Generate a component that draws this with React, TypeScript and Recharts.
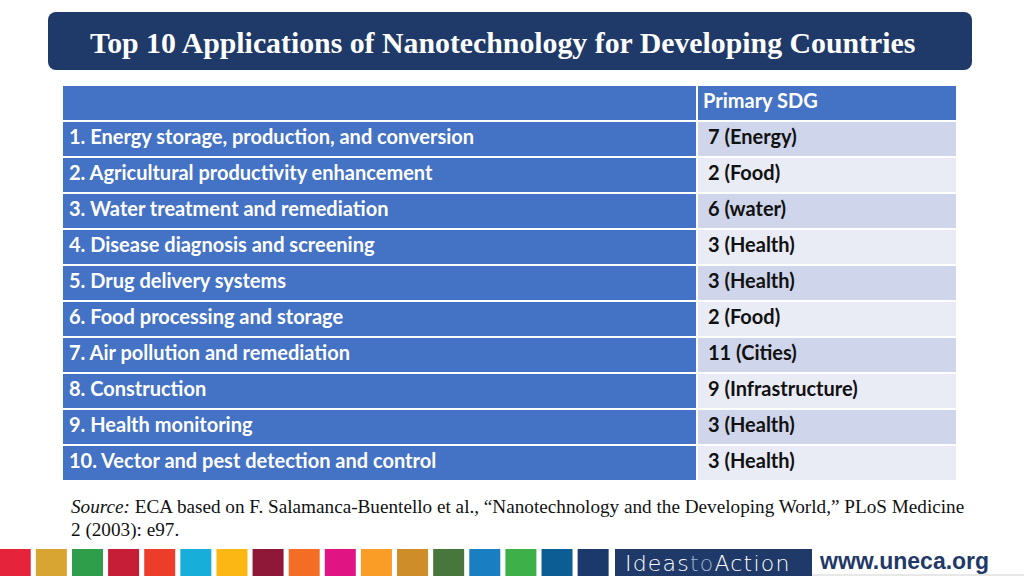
import React from "react";
import { BarChart, Bar, XAxis, YAxis, Cell } from "recharts";

// ---------- data ----------
const TITLE = "Top 10 Applications of Nanotechnology for Developing Countries";
const HEADER_APP = "";
const HEADER_SDG = "Primary SDG";
const applications = [
  "1. Energy storage, production, and conversion",
  "2. Agricultural productivity enhancement",
  "3. Water treatment and remediation",
  "4. Disease diagnosis and screening",
  "5. Drug delivery systems",
  "6. Food processing and storage",
  "7. Air pollution and remediation",
  "8. Construction",
  "9. Health monitoring",
  "10. Vector and pest detection and control",
];
const primarySdg = [
  "7 (Energy)",
  "2 (Food)",
  "6 (water)",
  "3 (Health)",
  "3 (Health)",
  "2 (Food)",
  "11 (Cities)",
  "9 (Infrastructure)",
  "3 (Health)",
  "3 (Health)",
];
const sdgGoals = [1, 2, 3, 4, 5, 6, 7, 8, 9, 10, 11, 12, 13, 14, 15, 16, 17];
const sdgColors = [
  "#E5243B", "#D9A532", "#2E9E4A", "#C61E36", "#EB3D2A", "#17AFD9", "#FDB714",
  "#8F1838", "#F36D25", "#E11484", "#F99D26", "#CF8D2A", "#48773E", "#1A7EC2",
  "#3EB049", "#0B5D93", "#1B3A6B",
];

// ---------- layout (not data) ----------
const APP_COL = 633;
const COL_GAP = 2;
const SDG_COL = 258;
const TABLE_W = APP_COL + COL_GAP + SDG_COL;

const BLUE = "#4472C4";
const DARK_ROW = "#CFD5EA";
const LIGHT_ROW = "#E9EBF5";
const NAVY = "#1F3A68";
const CELL_FONT = "Lato, 'Open Sans', sans-serif";
const CELL_SIZE = 20;

const tableRows = [
  { key: "h", app: HEADER_APP, sdg: HEADER_SDG, header: true, c1: APP_COL, g: COL_GAP, c2: SDG_COL },
  ...applications.map((a, i) => ({
    key: "r" + i,
    app: a,
    sdg: primarySdg[i],
    header: false,
    c1: APP_COL,
    g: COL_GAP,
    c2: SDG_COL,
  })),
];

const stripData = sdgGoals.map((g) => ({ goal: String(g), v: 1 }));

const AppCell = (props: any) => {
  const { x, y, width, height, payload } = props;
  return (
    <g>
      <rect x={x} y={y} width={width} height={height} fill={BLUE} />
      {payload.app ? (
        <text
          x={x + 6}
          y={y + 13.5}
          dominantBaseline="central"
          fill="#FFFFFF"
          fontFamily={CELL_FONT}
          fontWeight={700}
          fontSize={CELL_SIZE}
        >
          {payload.app}
        </text>
      ) : null}
    </g>
  );
};

const SdgCell = (props: any) => {
  const { x, y, width, height, payload, index } = props;
  const fill = payload.header ? BLUE : index % 2 === 1 ? DARK_ROW : LIGHT_ROW;
  return (
    <g>
      <rect x={x} y={y} width={width} height={height} fill={fill} />
      <text
        x={x + (payload.header ? 5 : 10)}
        y={y + 13.5}
        dominantBaseline="central"
        fill={payload.header ? "#FFFFFF" : "#111111"}
        fontFamily={CELL_FONT}
        fontWeight={700}
        fontSize={CELL_SIZE}
      >
        {payload.sdg}
      </text>
    </g>
  );
};

export default function App() {
  return (
    <div
      style={{
        position: "absolute",
        left: 0,
        top: 0,
        width: 1024,
        height: 576,
        overflow: "hidden",
        background: "#FFFFFF",
      }}
    >
      {/* Title banner */}
      <div
        style={{
          position: "absolute",
          left: 48,
          top: 12,
          width: 924,
          height: 58,
          background: NAVY,
          borderRadius: 8,
        }}
      />
      <svg style={{ position: "absolute", left: 0, top: 0 }} width={1024} height={80}>
        <text
          x={90}
          y={53}
          fill="#FFFFFF"
          fontFamily="'Liberation Serif', 'Times New Roman', serif"
          fontWeight={700}
          fontSize={29.8}
        >
          {TITLE}
        </text>
      </svg>

      {/* Table */}
      <div style={{ position: "absolute", left: 63, top: 85 }}>
        <BarChart
          width={TABLE_W}
          height={396}
          data={tableRows}
          layout="vertical"
          margin={{ top: 0, right: 0, bottom: 0, left: 0 }}
          barCategoryGap={1}
        >
          <XAxis type="number" domain={[0, TABLE_W]} hide />
          <YAxis type="category" dataKey="key" hide />
          <Bar dataKey="c1" stackId="t" isAnimationActive={false} shape={<AppCell />} />
          <Bar dataKey="g" stackId="t" isAnimationActive={false} fill="transparent" />
          <Bar dataKey="c2" stackId="t" isAnimationActive={false} shape={<SdgCell />} />
        </BarChart>
      </div>

      {/* Source */}
      <svg style={{ position: "absolute", left: 0, top: 490 }} width={1024} height={56}>
        <text
          x={71}
          y={23}
          fill="#111111"
          fontFamily="'Liberation Serif', 'Times New Roman', serif"
          fontSize={19.2}
        >
          <tspan fontStyle="italic">Source:</tspan>
          <tspan> ECA based on F. Salamanca-Buentello et al., “Nanotechnology and the Developing World,” PLoS Medicine</tspan>
        </text>
        <text
          x={71}
          y={46}
          fill="#111111"
          fontFamily="'Liberation Serif', 'Times New Roman', serif"
          fontSize={19.2}
        >
          2 (2003): e97.
        </text>
      </svg>

      {/* SDG colour strip */}
      <div style={{ position: "absolute", left: -3, top: 549 }}>
        <BarChart
          width={614}
          height={27}
          data={stripData}
          margin={{ top: 0, right: 0, bottom: 0, left: 0 }}
          barCategoryGap={2.75}
        >
          <XAxis type="category" dataKey="goal" hide />
          <YAxis type="number" domain={[0, 1]} hide />
          <Bar dataKey="v" isAnimationActive={false}>
            {stripData.map((d, i) => (
              <Cell key={d.goal} fill={sdgColors[i]} />
            ))}
          </Bar>
        </BarChart>
      </div>

      {/* Ideas to Action + url */}
      <svg style={{ position: "absolute", left: 0, top: 540 }} width={1024} height={36}>
        <rect x={615} y={9} width={197} height={27} fill={NAVY} />
        <text
          x={625}
          y={31}
          fontFamily="'DejaVu Sans', sans-serif"
          fontWeight={300}
          fontSize={22}
          letterSpacing={1.2}
          fill="#FFFFFF"
        >
          <tspan>Ideas</tspan>
          <tspan fill="#9FB3D6">to</tspan>
          <tspan>Action</tspan>
        </text>
        <text
          x={820}
          y={29}
          fontFamily="'Liberation Sans', Arial, sans-serif"
          fontWeight={700}
          fontSize={23}
          fill={NAVY}
        >
          www.uneca.org
        </text>
        <line x1={812} y1={35} x2={1024} y2={35} stroke="#D0D0D0" strokeWidth={1} />
      </svg>
    </div>
  );
}
